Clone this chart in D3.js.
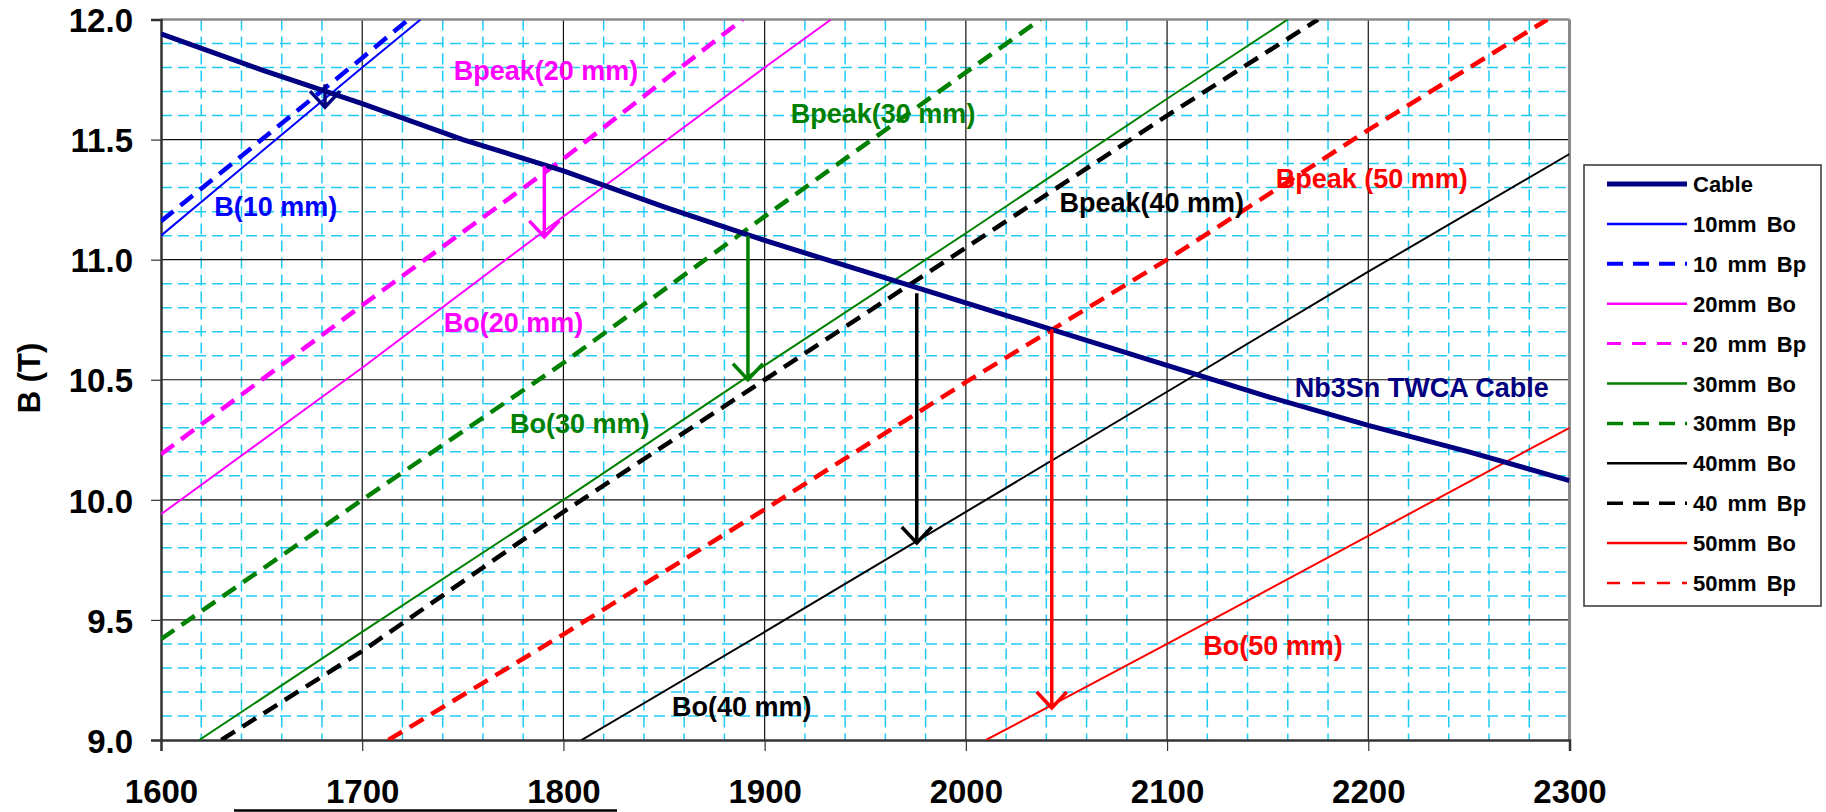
<!DOCTYPE html>
<html>
<head>
<meta charset="utf-8">
<script src="https://cdn.jsdelivr.net/npm/d3@7"></script>
<style>
  body { margin: 0; background: #fff; }
  svg { display: block; font-family: "Liberation Sans", Arial, sans-serif; font-weight: bold; }
</style>
</head>
<body>
<div id="chart"></div>
<script>
// series: [current (A), field (T)]
const cable = [[1600, 11.94], [1650, 11.79], [1700, 11.65], [1750, 11.50], [1800, 11.37], [1850, 11.22],
  [1900, 11.08], [1950, 10.95], [2000, 10.82], [2050, 10.69], [2100, 10.56], [2150, 10.43],
  [2200, 10.31], [2250, 10.20], [2300, 10.08]];
const bo10 = [[1600, 11.10], [1650, 11.45], [1700, 11.80], [1729, 12.0]];
const bp10 = [[1600, 11.16], [1650, 11.50], [1700, 11.84], [1723, 12.0]];
const bo20 = [[1600, 9.94], [1700, 10.55], [1800, 11.18], [1900, 11.80], [1933, 12.0]];
const bp20 = [[1600, 10.19], [1700, 10.81], [1800, 11.42], [1889, 12.0]];
const bo30 = [[1619, 9.0], [1700, 9.45], [1800, 10.0], [1900, 10.56], [2000, 11.11], [2100, 11.67], [2160, 12.0]];
const bp30 = [[1600, 9.42], [1700, 10.0], [1800, 10.57], [1900, 11.18], [2000, 11.78], [2037, 12.0]];
const bo40 = [[1809, 9.0], [1900, 9.45], [2000, 9.95], [2100, 10.45], [2200, 10.95], [2300, 11.44]];
const bp40 = [[1630, 9.0], [1700, 9.37], [1800, 9.95], [1900, 10.50], [2000, 11.05], [2100, 11.60], [2175, 12.0]];
const bo50 = [[2010, 9.0], [2100, 9.40], [2200, 9.85], [2300, 10.30]];
const bp50 = [[1713, 9.0], [1800, 9.44], [1900, 9.96], [2000, 10.49], [2100, 11.0], [2200, 11.54], [2289, 12.0]];

const legendNames = ['Cable', '10mm Bo', '10 mm Bp', '20mm Bo', '20 mm Bp', '30mm Bo', '30mm Bp',
  '40mm Bo', '40 mm Bp', '50mm Bo', '50mm Bp'];

// arrows: current, start field (on cable), end field (on Bo line)
const arrowX = [1681.5, 1790.5, 1891.7, 1975.6, 2042.7];
const arrowFrom = [11.73, 11.39, 11.10, 10.86, 10.71];
const arrowTo = [11.635, 11.095, 10.50, 9.82, 9.133];

// text labels in the plot: [current, field, text]
const labels = [
  [1626.5, 11.18, 'B(10 mm)'],
  [1745.5, 11.75, 'Bpeak(20 mm)'],
  [1913, 11.57, 'Bpeak(30 mm)'],
  [1740.5, 10.70, 'Bo(20 mm)'],
  [1773.5, 10.28, 'Bo(30 mm)'],
  [2046.5, 11.20, 'Bpeak(40 mm)'],
  [2154, 11.30, 'Bpeak (50 mm)'],
  [2163.5, 10.429, 'Nb3Sn TWCA Cable'],
  [2118, 9.353, 'Bo(50 mm)'],
  [1854, 9.101, 'Bo(40 mm)']
];

const xTicks = [1600, 1700, 1800, 1900, 2000, 2100, 2200, 2300];
const yTicks = [9.0, 9.5, 10.0, 10.5, 11.0, 11.5, 12.0];

const navy = '#000080', blue = '#0000ff', magenta = '#ff00ff', green = '#008000', black = '#000000', red = '#ff0000';

const series = [
  { data: cable, color: navy, w: 5, dash: null },
  { data: bo10, color: blue, w: 2, dash: null },
  { data: bp10, color: blue, w: 4.5, dash: '16,9' },
  { data: bo20, color: magenta, w: 2, dash: null },
  { data: bp20, color: magenta, w: 4.5, dash: '16,9' },
  { data: bo30, color: green, w: 2, dash: null },
  { data: bp30, color: green, w: 4.5, dash: '16,9' },
  { data: bo40, color: black, w: 2, dash: null },
  { data: bp40, color: black, w: 4.5, dash: '16,9' },
  { data: bo50, color: red, w: 2, dash: null },
  { data: bp50, color: red, w: 4.5, dash: '16,9' }
];
const legendStyle = [
  { w: 5, dash: null }, { w: 2.5, dash: null }, { w: 4, dash: '16,10' }, { w: 2.5, dash: null },
  { w: 3, dash: '14,11' }, { w: 2.5, dash: null }, { w: 3.5, dash: '16,10' }, { w: 2.5, dash: null },
  { w: 3.5, dash: '16,10' }, { w: 2.5, dash: null }, { w: 2.5, dash: '13,12' }
];
const arrowColors = [navy, magenta, green, black, red];
const labelColors = [blue, magenta, green, magenta, green, black, red, navy, red, black];

const svgWidth = 1826, svgHeight = 812;
const plotLeft = 161, plotRight = 1569.5, plotTop = 19.5, plotBottom = 740;

const svg = d3.select('#chart').append('svg')
  .attr('width', svgWidth)
  .attr('height', svgHeight);

const x = d3.scaleLinear().domain([1600, 2300]).range([plotLeft, plotRight]);
const y = d3.scaleLinear().domain([9, 12]).range([plotBottom, plotTop]);

// minor grid (cyan dashed)
const minorX = d3.range(1620, 2300, 20).filter(v => v % 100 !== 0);
const minorY = d3.range(91, 120, 1).map(v => v / 10).filter(v => Math.round(v * 10) % 5 !== 0);
const grid = svg.append('g');
grid.selectAll('.mx').data(minorX).enter().append('line')
  .attr('x1', d => x(d)).attr('x2', d => x(d))
  .attr('y1', plotTop).attr('y2', plotBottom)
  .attr('stroke', '#1ecbf5').attr('stroke-width', 1.5).attr('stroke-dasharray', '11,6');
grid.selectAll('.my').data(minorY).enter().append('line')
  .attr('x1', plotLeft).attr('x2', plotRight)
  .attr('y1', d => y(d)).attr('y2', d => y(d))
  .attr('stroke', '#1ecbf5').attr('stroke-width', 1.5).attr('stroke-dasharray', '11,6');
// major grid
grid.selectAll('.Mx').data(xTicks.slice(1, -1)).enter().append('line')
  .attr('x1', d => x(d)).attr('x2', d => x(d))
  .attr('y1', plotTop).attr('y2', plotBottom)
  .attr('stroke', '#111').attr('stroke-width', 1.2);
grid.selectAll('.My').data(yTicks.slice(1, -1)).enter().append('line')
  .attr('x1', plotLeft).attr('x2', plotRight)
  .attr('y1', d => y(d)).attr('y2', d => y(d))
  .attr('stroke', '#111').attr('stroke-width', 1.2);

// plot frame
svg.append('line').attr('x1', plotLeft).attr('x2', plotRight).attr('y1', plotTop).attr('y2', plotTop)
  .attr('stroke', '#8a8a8a').attr('stroke-width', 2.5);
svg.append('line').attr('x1', plotRight).attr('x2', plotRight).attr('y1', plotTop).attr('y2', plotBottom)
  .attr('stroke', '#8a8a8a').attr('stroke-width', 3);

// axes
const xAxis = d3.axisBottom(x).tickValues(xTicks).tickSize(11).tickPadding(29).tickFormat(d3.format('d'));
const yAxis = d3.axisLeft(y).tickValues(yTicks).tickSize(10).tickPadding(18).tickFormat(d3.format('.1f'));
const gX = svg.append('g').attr('transform', 'translate(0,' + plotBottom + ')').call(xAxis);
const gY = svg.append('g').attr('transform', 'translate(' + plotLeft + ',0)').call(yAxis);
[gX, gY].forEach(g => {
  g.select('.domain').attr('stroke', '#333').attr('stroke-width', 2.5);
  g.selectAll('.tick line').attr('stroke', '#333').attr('stroke-width', 1.2);
  g.selectAll('.tick text').attr('fill', '#000').style('font-size', '33px')
    .style('font-family', '"Liberation Sans", Arial, sans-serif').style('font-weight', 'bold');
});
gY.selectAll('.tick text').attr('dy', '0.37em');

// y-axis title
svg.append('text')
  .attr('transform', 'translate(40,378) rotate(-90)')
  .attr('text-anchor', 'middle')
  .style('font-size', '31px')
  .text('B (T)');

// underline under the x labels
svg.append('line').attr('x1', 234).attr('x2', 617).attr('y1', 810.5).attr('y2', 810.5)
  .attr('stroke', '#000').attr('stroke-width', 2.5);

// series lines
svg.append('clipPath').attr('id', 'plotClip').append('rect')
  .attr('x', plotLeft).attr('y', plotTop).attr('width', plotRight - plotLeft).attr('height', plotBottom - plotTop);
const line = d3.line().x(d => x(d[0])).y(d => y(d[1]));
const lines = svg.append('g').attr('clip-path', 'url(#plotClip)');
// draw Bo/Bp first, cable on top
series.slice(1).concat([series[0]]).forEach(s => {
  lines.append('path')
    .datum(s.data)
    .attr('d', line)
    .attr('fill', 'none')
    .attr('stroke', s.color)
    .attr('stroke-width', s.w)
    .attr('stroke-dasharray', s.dash);
});

// arrows
const arrows = svg.append('g');
arrowX.forEach((a, i) => {
  const ax = x(a), y0 = y(arrowFrom[i]), y1 = y(arrowTo[i]);
  arrows.append('line')
    .attr('x1', ax).attr('x2', ax).attr('y1', y0).attr('y2', y1)
    .attr('stroke', arrowColors[i]).attr('stroke-width', 3.5);
  arrows.append('path')
    .attr('d', 'M' + (ax - 15) + ',' + (y1 - 16) + 'L' + ax + ',' + y1 + 'L' + (ax + 15) + ',' + (y1 - 16))
    .attr('fill', 'none').attr('stroke', arrowColors[i]).attr('stroke-width', 3.5);
});

// labels
svg.append('g').selectAll('text').data(labels).enter().append('text')
  .attr('x', d => x(d[0]))
  .attr('y', d => y(d[1]))
  .attr('fill', (d, i) => labelColors[i])
  .style('font-size', '27px')
  .text(d => d[2]);

// legend
const legend = svg.append('g').attr('transform', 'translate(1584,165)');
legend.append('rect')
  .attr('width', 237).attr('height', 441)
  .attr('fill', '#fff').attr('stroke', '#333').attr('stroke-width', 1.5);
legendNames.forEach((name, i) => {
  const ly = 19 + i * 39.9;
  legend.append('line')
    .attr('x1', 23).attr('x2', 103).attr('y1', ly).attr('y2', ly)
    .attr('stroke', series[i].color)
    .attr('stroke-width', legendStyle[i].w)
    .attr('stroke-dasharray', legendStyle[i].dash);
  legend.append('text')
    .attr('x', 109).attr('y', ly + 8)
    .style('font-size', '22px')
    .style('word-spacing', '4px')
    .text(name);
});
</script>
</body>
</html>
